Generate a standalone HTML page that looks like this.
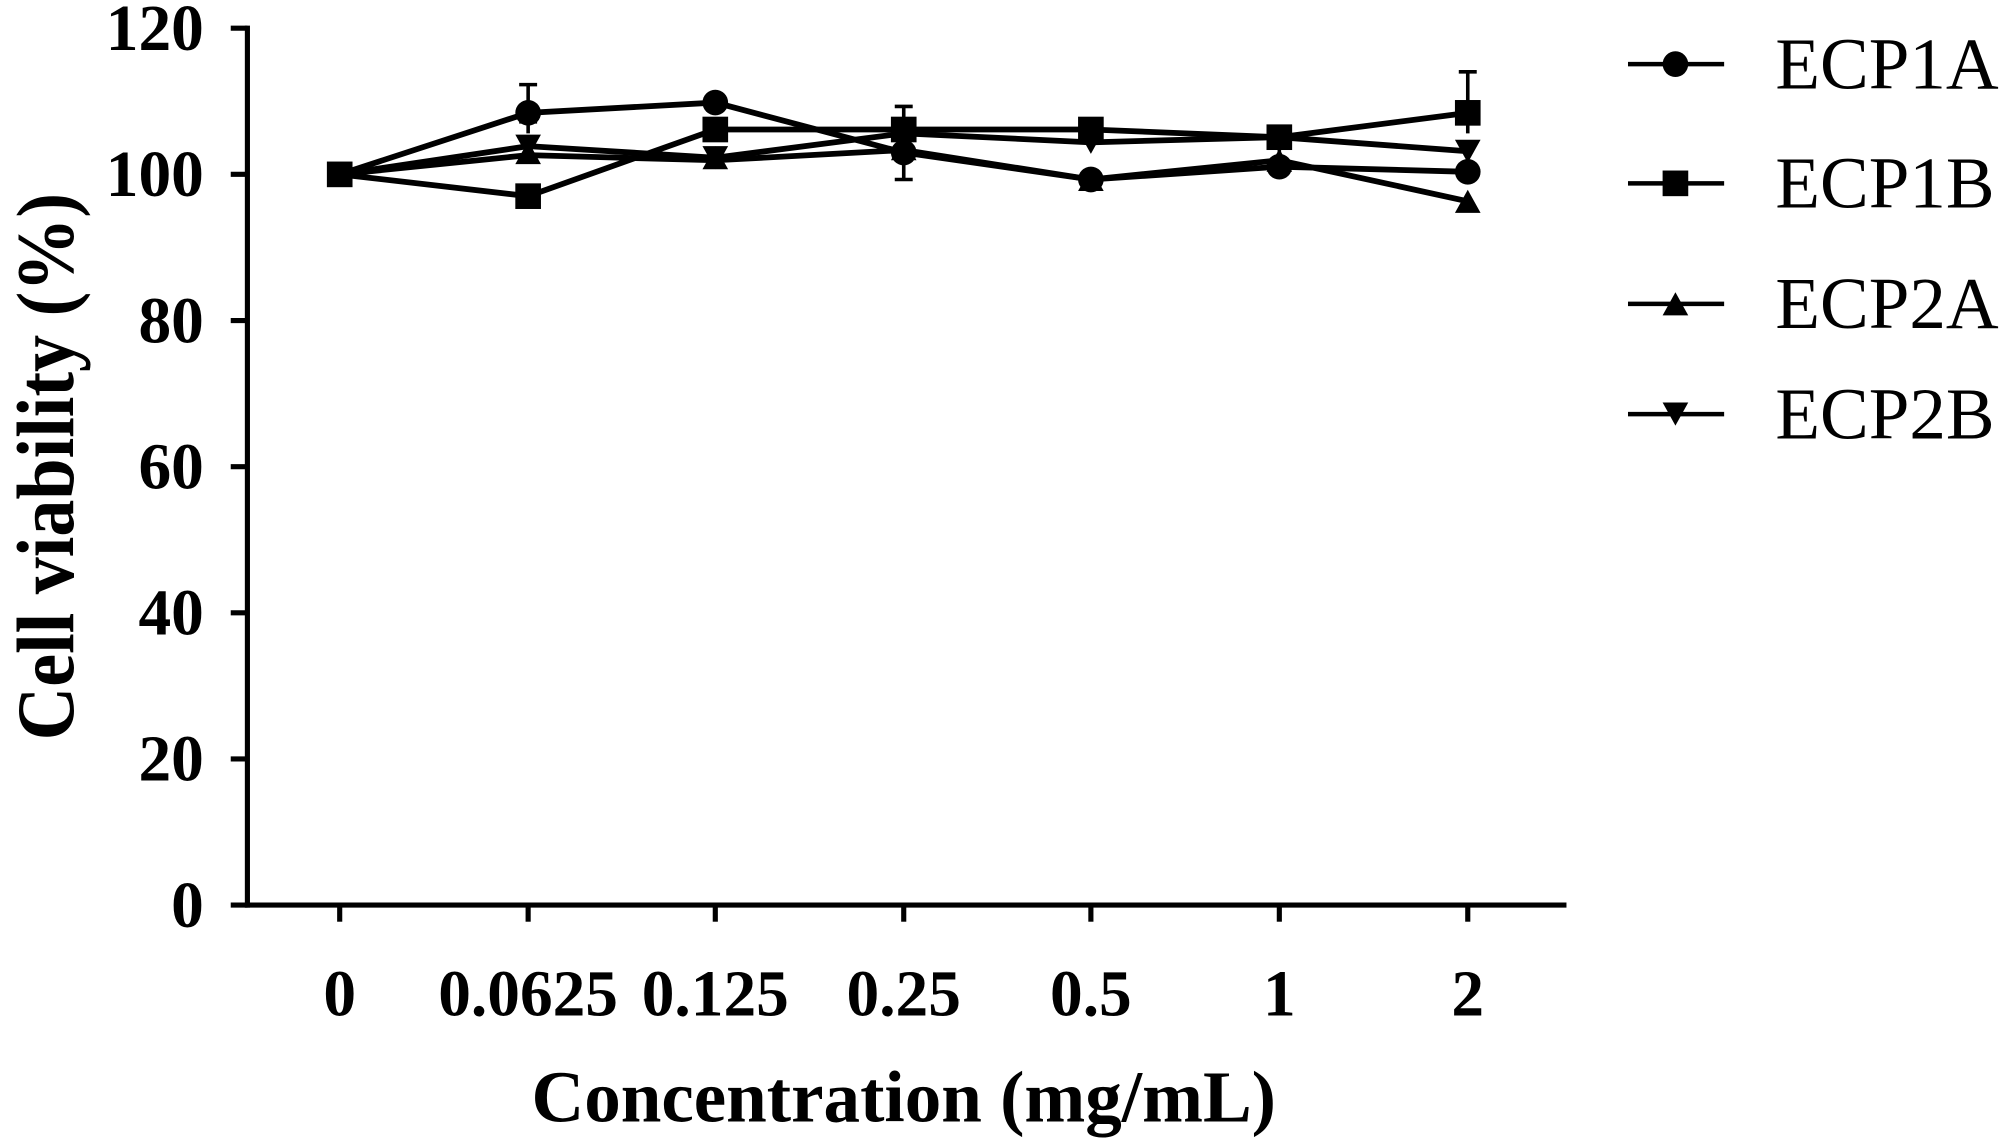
<!DOCTYPE html>
<html><head><style>html,body{margin:0;padding:0;background:#fff}</style></head><body>
<svg width="2010" height="1143" viewBox="0 0 1568 891.6" xmlns="http://www.w3.org/2000/svg" font-family="Liberation Serif, serif">
<g stroke="#000" stroke-width="4" fill="none">
<line x1="193" y1="20" x2="193" y2="708"/>
<line x1="191" y1="706" x2="1222" y2="706"/>
<g stroke-width="4">
<line x1="180" y1="706" x2="193" y2="706"/><line x1="180" y1="592" x2="193" y2="592"/>
<line x1="180" y1="478" x2="193" y2="478"/><line x1="180" y1="364" x2="193" y2="364"/>
<line x1="180" y1="250" x2="193" y2="250"/><line x1="180" y1="136" x2="193" y2="136"/>
<line x1="180" y1="22" x2="193" y2="22"/>
<line x1="265" y1="706" x2="265" y2="719"/><line x1="412" y1="706" x2="412" y2="719"/>
<line x1="558" y1="706" x2="558" y2="719"/><line x1="705" y1="706" x2="705" y2="719"/>
<line x1="851" y1="706" x2="851" y2="719"/><line x1="998" y1="706" x2="998" y2="719"/>
<line x1="1145" y1="706" x2="1145" y2="719"/>
</g>
<g stroke-width="2.8">
<path d="M412 88V66M405 66h14M705 106V83M698 83h14M705 118V140M698 140h14M998 130V108M991 108h14M998 104V115M991 115h14M1145 88V56M1138 56h14M1145 104V96M1138 96h14M851 111V100M844 100h14M412 104V95M405 95h14M412 153V161M405 161h14"/>
</g>
<g stroke-width="4.5">
<polyline points="265,136 412,88 558,80 705,119 851,140 998,130 1145,134"/>
<polyline points="265,136 412,153 558,101 705,101 851,101 998,107 1145,88"/>
<polyline points="265,136 412,121 558,125 705,117 851,140 998,125 1145,157"/>
<polyline points="265,136 412,114 558,123 705,104 851,111 998,107 1145,118"/>
</g>
</g>
<g fill="#000">
<circle cx="412" cy="88" r="10"/><circle cx="558" cy="80" r="10"/><circle cx="705" cy="119" r="10"/><circle cx="851" cy="140" r="10"/><circle cx="998" cy="130" r="10"/><circle cx="1145" cy="134" r="10"/>
<g><rect x="255" y="126" width="20" height="20"/><rect x="402" y="143" width="20" height="20"/><rect x="548" y="91" width="20" height="20"/><rect x="695" y="91" width="20" height="20"/><rect x="841" y="91" width="20" height="20"/><rect x="988" y="97" width="20" height="20"/><rect x="1135" y="78" width="20" height="20"/></g>
<path d="M412 110l10 18h-20zM558 114l10 18h-20zM705 107l10 18h-20zM851 131l10 18h-20zM998 116l10 18h-20zM1145 148l10 18h-20z"/>
<path d="M412 123l10-18h-20zM558 132l10-18h-20zM705 113l10-18h-20zM851 120l10-18h-20zM998 116l10-18h-20zM1145 127l10-18h-20z"/>
</g>
<g font-size="51" font-weight="bold" text-anchor="end">
<text x="159" y="723">0</text><text x="159" y="609">20</text><text x="159" y="495">40</text>
<text x="159" y="381">60</text><text x="159" y="267">80</text><text x="159" y="153">100</text><text x="159" y="39">120</text>
</g>
<g font-size="51" font-weight="bold" text-anchor="middle">
<text x="265" y="792">0</text><text x="412" y="792">0.0625</text><text x="558" y="792">0.125</text>
<text x="705" y="792">0.25</text><text x="851" y="792">0.5</text><text x="998" y="792">1</text><text x="1145" y="792">2</text>
<text x="705" y="875" font-size="57">Concentration (mg/mL)</text>
<text transform="translate(57,364) rotate(-90)" font-size="64" textLength="427" lengthAdjust="spacingAndGlyphs">Cell viability (%)</text>
</g>
<g stroke="#000" stroke-width="3.5">
<line x1="1270" y1="50" x2="1345" y2="50"/><line x1="1270" y1="143" x2="1345" y2="143"/>
<line x1="1270" y1="237" x2="1345" y2="237"/><line x1="1270" y1="323" x2="1345" y2="323"/>
</g>
<g fill="#000">
<circle cx="1307" cy="50" r="10"/><rect x="1297" y="133" width="20" height="20"/>
<path d="M1307 228l10 18h-20z"/><path d="M1307 332l10-18h-20z"/>
</g>
<g font-size="57">
<text x="1385" y="69">ECP1A</text><text x="1385" y="162">ECP1B</text>
<text x="1385" y="256">ECP2A</text><text x="1385" y="342">ECP2B</text>
</g>
</svg>
</body></html>
